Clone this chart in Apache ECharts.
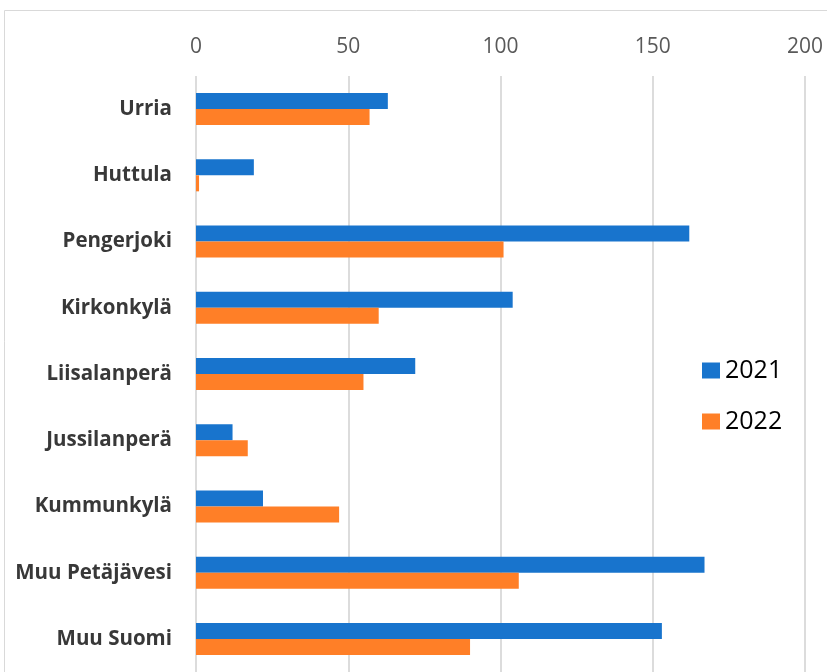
<!DOCTYPE html>
<html>
<head>
<meta charset="utf-8">
<script src="https://cdn.jsdelivr.net/npm/echarts@6/dist/echarts.min.js"></script>
<style>
  html, body { margin: 0; padding: 0; background: #fff; }
  #chart { width: 827px; height: 672px; }
</style>
</head>
<body>
<div id="chart"></div>
<script>
// kylät / alueet
var categories = ['Urria', 'Huttula', 'Pengerjoki', 'Kirkonkylä', 'Liisalanperä',
  'Jussilanperä', 'Kummunkylä', 'Muu Petäjävesi', 'Muu Suomi'];
var values2021 = [63, 19, 162, 104, 72, 12, 22, 167, 153];
var values2022 = [57, 1, 101, 60, 55, 17, 47, 106, 90];
var seriesNames = ['2021', '2022'];

var chart = echarts.init(document.getElementById('chart'));
chart.setOption({
  animation: false,
  color: ['#1874cd', '#ff7f27'],
  graphic: [{
    type: 'rect',
    shape: { x: 4.5, y: 10.5, width: 840, height: 680 },
    style: { fill: 'none', stroke: '#d9d9d9', lineWidth: 1 }
  }],
  legend: {
    orient: 'vertical',
    left: 697,
    top: 353,
    itemWidth: 18,
    itemHeight: 16,
    itemGap: 26,
    icon: 'rect',
    data: seriesNames,
    textStyle: { fontFamily: 'Open Sans', fontSize: 25, color: '#000' }
  },
  grid: { left: 196, right: 22, top: 76, bottom: -1, containLabel: false },
  xAxis: {
    type: 'value',
    position: 'top',
    min: 0,
    max: 200,
    interval: 50,
    axisLine: { show: false },
    axisTick: { show: false },
    axisLabel: { margin: 18, fontFamily: 'Open Sans', fontSize: 21, color: '#595959' },
    splitLine: { show: true, lineStyle: { color: '#dcdcdc', width: 2 } }
  },
  yAxis: {
    type: 'category',
    inverse: true,
    data: categories,
    axisLine: { show: false },
    axisTick: { show: false },
    axisLabel: { margin: 24, fontFamily: 'Open Sans', fontWeight: 'bold', fontSize: 20.5, color: '#383838' }
  },
  series: [
    { name: seriesNames[0], type: 'bar', data: values2021, barWidth: 16, barGap: '0%' },
    { name: seriesNames[1], type: 'bar', data: values2022, barWidth: 16, barGap: '0%' }
  ]
});
</script>
</body>
</html>
